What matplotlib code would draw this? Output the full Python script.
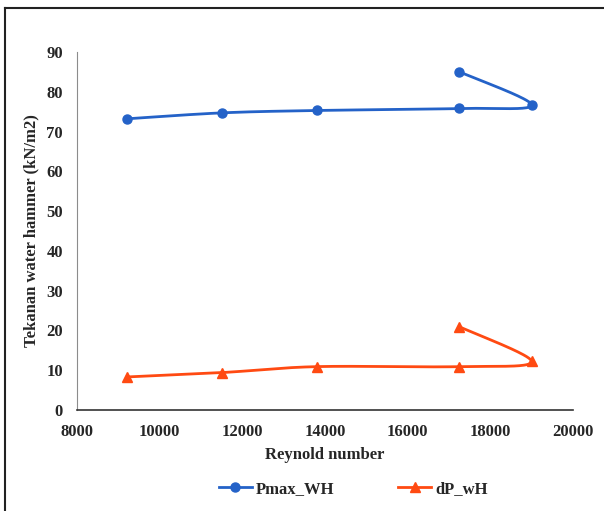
import matplotlib; matplotlib.use('Agg')
import numpy as np
from matplotlib import pyplot as plt
from matplotlib.lines import Line2D

plt.rcParams.update({
    'font.family': ['Liberation Serif', 'DejaVu Serif'],
    'font.weight': 'bold',
    'font.size': 12,
})

BLUE = '#2462C8'
ORANGE = '#FF4A12'

# Reynold number and pressures, in the order the points were measured
reynold = [9200, 11500, 13800, 17250, 19000, 17250]
pmax_wh = [73.2, 74.7, 75.3, 75.8, 76.7, 85.0]
dp_wh = [8.3, 9.4, 10.9, 10.9, 12.2, 20.9]


def smooth(ax, xs, ys, n=40):
    # Bezier smoothing through the points, computed in screen space
    pts = ax.transData.transform(np.column_stack([xs, ys]))
    m = len(pts)
    out = []
    t = np.linspace(0, 1, n)[:, None]
    for i in range(m - 1):
        p0 = pts[max(i - 1, 0)]
        p1 = pts[i]
        p2 = pts[i + 1]
        p3 = pts[min(i + 2, m - 1)]
        c1 = p1 + (p2 - p0) / 6
        c2 = p2 - (p3 - p1) / 6
        seg = ((1 - t) ** 3 * p1 + 3 * (1 - t) ** 2 * t * c1
               + 3 * (1 - t) * t ** 2 * c2 + t ** 3 * p2)
        out.append(seg)
    curve = ax.transData.inverted().transform(np.vstack(out))
    return curve[:, 0], curve[:, 1]


fig = plt.figure(figsize=(6.04, 5.11), dpi=100)
ax = fig.add_axes([0.1275, 0.1977, 0.8212, 0.7005])

ax.set_xlim(8000, 20000)
ax.set_ylim(0, 90)
ax.set_xticks(np.arange(8000, 20001, 2000))
ax.set_yticks(np.arange(0, 91, 10))

for ys, color, marker, ms, label in [
        (pmax_wh, BLUE, 'o', 6.5, 'Pmax_WH'),
        (dp_wh, ORANGE, '^', 7, 'dP_wH')]:
    cx, cy = smooth(ax, reynold, ys)
    ax.plot(cx, cy, color=color, lw=2, solid_capstyle='round')
    ax.plot(reynold, ys, ls='none', marker=marker, ms=ms, color=color)

ax.spines['top'].set_visible(False)
ax.spines['right'].set_visible(False)
ax.spines['left'].set_color('#8c8c8c')
ax.spines['bottom'].set_color('#333333')
ax.spines['bottom'].set_linewidth(1.2)
ax.tick_params(length=0, labelcolor='#262626')
ax.tick_params(axis='x', pad=10)
ax.tick_params(axis='y', pad=10)

ax.set_xlabel('Reynold number', fontweight='bold', color='#262626', labelpad=5)
ax.set_ylabel('Tekanan water hammer (kN/m2)', fontweight='bold',
              color='#262626', labelpad=5)

handles = [
    Line2D([], [], color=BLUE, lw=2, marker='o', ms=6.5, label='Pmax_WH'),
    Line2D([], [], color=ORANGE, lw=2, marker='^', ms=7, label='dP_wH'),
]
leg = fig.legend(handles=handles, loc='center', ncol=2, frameon=False,
                 bbox_to_anchor=(0.585, 1 - 489 / 511), columnspacing=3.8,
                 handlelength=2.0, handletextpad=0.25)
for t in leg.get_texts():
    t.set_color('#262626')

# frame round the figure
fig.add_artist(Line2D([5 / 604, 5 / 604], [0, 1 - 8 / 511], color='#222222',
                      lw=1.5, transform=fig.transFigure))
fig.add_artist(Line2D([5 / 604, 1], [1 - 8 / 511, 1 - 8 / 511],
                      color='#222222', lw=1.5, transform=fig.transFigure))

fig.savefig('out.png', dpi=100)
plt.close(fig)
